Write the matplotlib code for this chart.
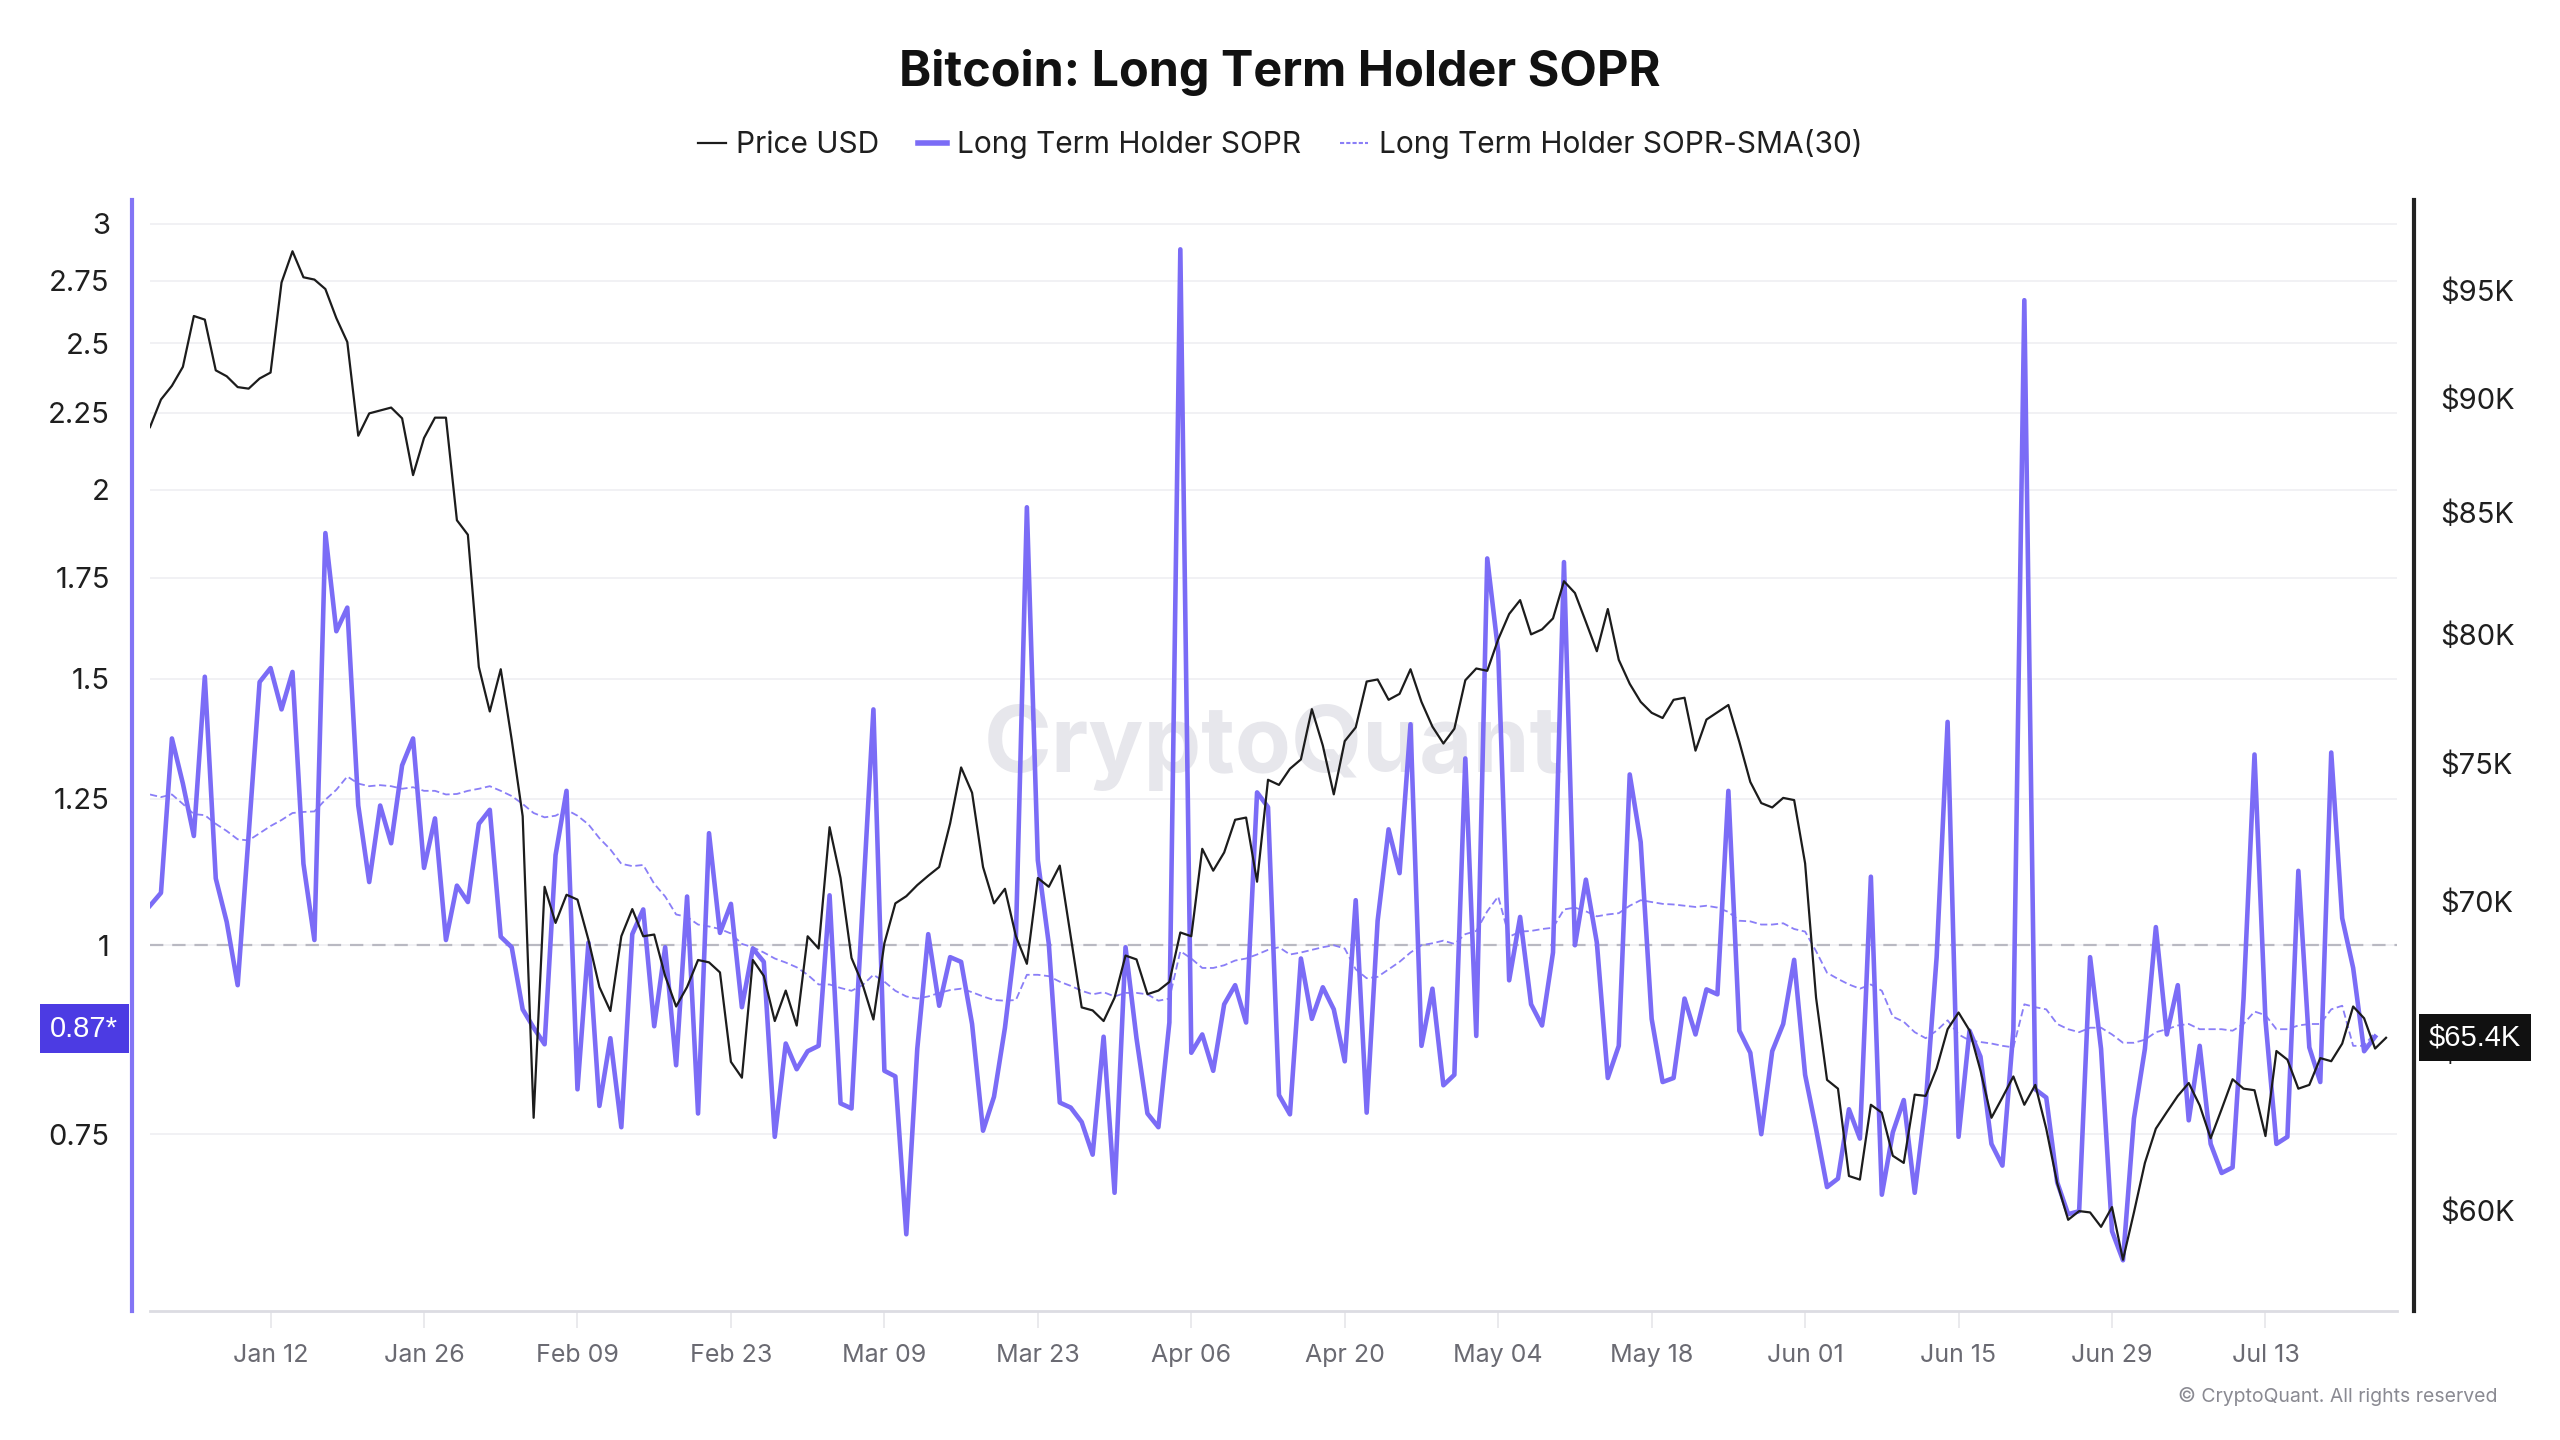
import matplotlib
matplotlib.use("Agg")
import matplotlib.pyplot as plt
import matplotlib.dates as mdates
import matplotlib.transforms as mtransforms
from matplotlib.lines import Line2D
from matplotlib.ticker import FixedLocator, NullLocator, FixedFormatter
import pandas as pd

# ---------------- data ----------------
start_date = "2026-01-01"

price_usd = [88710, 89940, 90560, 91420, 93770, 93600, 91260, 90990, 90500, 90430,
             90890, 91160, 95350, 96850, 95600, 95490, 95040, 93670, 92560, 88330,
             89320, 89450, 89580, 89100, 86610, 88230, 89130, 89130, 84680, 84070,
             78700, 76970, 78610, 75890, 73050, 62840, 70520, 69260, 70240, 70070,
             68680, 67080, 66280, 68800, 69740, 68800, 68860, 67450, 66430, 67080,
             67990, 67910, 67570, 64620, 64110, 67990, 67450, 65950, 66960, 65800,
             68800, 68380, 72650, 70830, 68060, 67180, 66000, 68560, 69940, 70190,
             70580, 70910, 71220, 72790, 74850, 73910, 71220, 69940, 70450, 68800,
             67860, 70830, 70520, 71270, 68800, 66400, 66300, 65950, 66720, 68140,
             68010, 66840, 66960, 67250, 68930, 68800, 71870, 71090, 71740, 72920,
             73000, 70700, 74390, 74200, 74800, 75150, 77060, 75670, 73850, 75840,
             76360, 78130, 78210, 77420, 77650, 78610, 77340, 76390, 75750, 76310,
             78180, 78640, 78550, 79790, 80810, 81370, 79990, 80190, 80630, 82140,
             81660, 80490, 79320, 81010, 78980, 78040, 77340, 76920, 76720, 77420,
             77500, 75480, 76660, 76940, 77220, 75810, 74310, 73530, 73370, 73720,
             73640, 71350, 66720, 64040, 63760, 61040, 60930, 63250, 63000, 61660,
             61440, 63570, 63530, 64410, 65680, 66230, 65640, 64340, 62840, 63480,
             64150, 63250, 63880, 62500, 60820, 59720, 59980, 59940, 59510, 60100,
             58540, 59940, 61440, 62500, 63020, 63530, 63940, 63230, 62200, 63110,
             64060, 63760, 63710, 62270, 64970, 64690, 63760, 63880, 64740, 64640,
             65210, 66430, 66040, 65050, 65400]

lth_sopr = [1.062, 1.083, 1.370, 1.279, 1.181, 1.505, 1.107, 1.036, 0.941, 1.183,
            1.493, 1.525, 1.432, 1.516, 1.132, 1.008, 1.873, 1.613, 1.672, 1.237,
            1.101, 1.237, 1.168, 1.315, 1.370, 1.125, 1.213, 1.008, 1.095, 1.068,
            1.203, 1.229, 1.013, 0.997, 0.907, 0.882, 0.860, 1.147, 1.265, 0.803,
            1.004, 0.783, 0.868, 0.758, 1.017, 1.056, 0.884, 0.997, 0.833, 1.077,
            0.774, 1.186, 1.019, 1.065, 0.910, 0.995, 0.975, 0.747, 0.861, 0.828,
            0.851, 0.858, 1.079, 0.786, 0.780, 1.059, 1.432, 0.826, 0.819, 0.644,
            0.854, 1.017, 0.912, 0.982, 0.975, 0.887, 0.754, 0.794, 0.882, 1.013,
            1.948, 1.138, 1.002, 0.787, 0.781, 0.764, 0.727, 0.870, 0.686, 0.997,
            0.868, 0.774, 0.758, 0.889, 2.885, 0.849, 0.873, 0.826, 0.914, 0.941,
            0.889, 1.262, 1.234, 0.796, 0.773, 0.980, 0.894, 0.938, 0.907, 0.838,
            1.071, 0.775, 1.038, 1.193, 1.116, 1.400, 0.858, 0.936, 0.808, 0.821,
            1.329, 0.871, 1.802, 1.564, 0.948, 1.044, 0.914, 0.885, 0.989, 1.792,
            1.000, 1.105, 1.004, 0.817, 0.858, 1.297, 1.170, 0.894, 0.812, 0.817,
            0.922, 0.873, 0.935, 0.928, 1.265, 0.878, 0.849, 0.750, 0.851, 0.887,
            0.978, 0.821, 0.756, 0.692, 0.701, 0.779, 0.745, 1.110, 0.684, 0.752,
            0.790, 0.686, 0.786, 0.982, 1.405, 0.747, 0.878, 0.844, 0.739, 0.715,
            0.878, 2.670, 0.803, 0.793, 0.697, 0.664, 0.667, 0.982, 0.854, 0.647,
            0.619, 0.768, 0.854, 1.028, 0.873, 0.941, 0.766, 0.858, 0.739, 0.707,
            0.713, 0.922, 1.337, 0.892, 0.739, 0.747, 1.120, 0.856, 0.812, 1.341,
            1.042, 0.966, 0.851, 0.870]

lth_sopr_sma30 = [1.258, 1.253, 1.258, 1.240, 1.221, 1.219, 1.203, 1.190, 1.175, 1.173,
                  1.186, 1.199, 1.210, 1.223, 1.225, 1.226, 1.248, 1.267, 1.293, 1.279,
                  1.274, 1.276, 1.274, 1.269, 1.272, 1.265, 1.265, 1.258, 1.259, 1.265,
                  1.269, 1.274, 1.265, 1.255, 1.240, 1.223, 1.215, 1.218, 1.229, 1.218,
                  1.202, 1.177, 1.157, 1.132, 1.128, 1.130, 1.098, 1.077, 1.048, 1.044,
                  1.032, 1.029, 1.025, 1.018, 1.002, 0.997, 0.989, 0.980, 0.974, 0.967,
                  0.956, 0.942, 0.942, 0.937, 0.933, 0.941, 0.956, 0.946, 0.933, 0.925,
                  0.922, 0.925, 0.930, 0.934, 0.936, 0.931, 0.925, 0.920, 0.919, 0.920,
                  0.956, 0.956, 0.954, 0.946, 0.940, 0.933, 0.928, 0.931, 0.925, 0.930,
                  0.930, 0.928, 0.919, 0.922, 0.991, 0.980, 0.966, 0.966, 0.970, 0.977,
                  0.980, 0.986, 0.993, 0.997, 0.986, 0.989, 0.993, 0.997, 1.000, 0.995,
                  0.964, 0.951, 0.953, 0.964, 0.975, 0.989, 1.000, 1.003, 1.007, 1.002,
                  1.017, 1.022, 1.053, 1.077, 1.013, 1.021, 1.022, 1.025, 1.027, 1.056,
                  1.059, 1.053, 1.045, 1.048, 1.050, 1.062, 1.071, 1.068, 1.065, 1.064,
                  1.062, 1.060, 1.062, 1.059, 1.052, 1.038, 1.037, 1.032, 1.032, 1.034,
                  1.025, 1.021, 0.991, 0.959, 0.950, 0.942, 0.936, 0.942, 0.933, 0.897,
                  0.890, 0.876, 0.868, 0.878, 0.892, 0.873, 0.865, 0.863, 0.861, 0.858,
                  0.856, 0.914, 0.910, 0.907, 0.887, 0.880, 0.876, 0.882, 0.882, 0.873,
                  0.862, 0.862, 0.866, 0.876, 0.880, 0.885, 0.887, 0.880, 0.880, 0.880,
                  0.878, 0.887, 0.904, 0.899, 0.880, 0.880, 0.885, 0.887, 0.887, 0.907,
                  0.912, 0.858, 0.858, 0.876]

left_ticks = [0.75, 1, 1.25, 1.5, 1.75, 2, 2.25, 2.5, 2.75, 3]
left_tick_labels = ["0.75", "1", "1.25", "1.5", "1.75", "2", "2.25", "2.5", "2.75", "3"]
right_ticks = [60000, 65000, 70000, 75000, 80000, 85000, 90000, 95000]
right_tick_labels = ["$60K", "$65K", "$70K", "$75K", "$80K", "$85K", "$90K", "$95K"]
date_ticks = ["2026-01-12", "2026-01-26", "2026-02-09", "2026-02-23", "2026-03-09",
              "2026-03-23", "2026-04-06", "2026-04-20", "2026-05-04", "2026-05-18",
              "2026-06-01", "2026-06-15", "2026-06-29", "2026-07-13"]

title = "Bitcoin: Long Term Holder SOPR"
legend_labels = ["Price USD", "Long Term Holder SOPR", "Long Term Holder SOPR-SMA(30)"]

# ---------------- styling ----------------
plt.rcParams["font.family"] = ["Inter", "DejaVu Sans"]
PURPLE = "#7b6cf6"
PURPLE_SMA = "#8a7ef7"
BLACK = "#1c1c1c"

dates = pd.date_range(start_date, periods=len(price_usd), freq="D")
sopr_dates = dates[:len(lth_sopr)]

W_PX, H_PX = 2560, 1440
fig = plt.figure(figsize=(W_PX / 100, H_PX / 100), dpi=100)
fig.patch.set_facecolor("white")
left_px, right_px, top_px, bottom_px = 150, 2397, 200, 1311
ax = fig.add_axes([left_px / W_PX, 1 - bottom_px / H_PX,
                   (right_px - left_px) / W_PX, (bottom_px - top_px) / H_PX])
ax2 = ax.twinx()

# watermark
ax.text(0.5, 0.507, "CryptoQuant", transform=ax.transAxes, ha="center", va="center",
        fontsize=66, fontweight="bold", color="#e7e7ec", zorder=0)

# reference line at 1
ax.axhline(1.0, color="#b9b9c2", lw=1.6, ls=(0, (6, 4)), zorder=1)

ax.plot(sopr_dates, lth_sopr, color=PURPLE, lw=3.3, zorder=3)
ax.plot(sopr_dates, lth_sopr_sma30, color=PURPLE_SMA, lw=1.3, ls=(0, (4, 2)), zorder=2)
ax2.plot(dates, price_usd, color=BLACK, lw=1.6, zorder=4)

# scales
ax.set_yscale("log")
ax.set_ylim(0.573, 3.11)
ax2.set_yscale("log")
ax2.set_ylim(57062, 99360)
x0 = pd.Timestamp(start_date)
ax.set_xlim(x0, x0 + pd.Timedelta(days=205))

ax.yaxis.set_major_locator(FixedLocator(left_ticks))
ax.yaxis.set_major_formatter(FixedFormatter(left_tick_labels))
ax.yaxis.set_minor_locator(NullLocator())
ax2.yaxis.set_major_locator(FixedLocator(right_ticks))
ax2.yaxis.set_major_formatter(FixedFormatter(right_tick_labels))
ax2.yaxis.set_minor_locator(NullLocator())

ax.set_xticks(pd.to_datetime(date_ticks))
ax.xaxis.set_major_formatter(mdates.DateFormatter("%b %d"))
ax.xaxis.set_minor_locator(NullLocator())

ax.grid(axis="y", color="#f0f0f3", lw=1.3)
ax.set_axisbelow(True)

ax.tick_params(axis="y", length=0, pad=16, labelsize=21, labelcolor="#1f1f1f")
ax2.tick_params(axis="y", length=0, pad=19, labelsize=21, labelcolor="#1f1f1f")
ax.tick_params(axis="x", length=12, width=1.2, color="#e6e6ea", pad=12,
               labelsize=18, labelcolor="#6a6a72")
for lab in ax.get_yticklabels() + ax2.get_yticklabels():
    lab.set_fontfamily(["Liberation Sans", "DejaVu Sans"])

# spines
for s in ["top", "right"]:
    ax.spines[s].set_visible(False)
for s in ["top", "left", "bottom"]:
    ax2.spines[s].set_visible(False)
ax.spines["left"].set_position(("outward", 13))
ax.spines["left"].set_color("#8375f5")
ax.spines["left"].set_linewidth(3)
ax2.spines["right"].set_position(("outward", 12))
ax2.spines["right"].set_color("#222222")
ax2.spines["right"].set_linewidth(3)
ax.spines["bottom"].set_color("#dcdce2")
ax.spines["bottom"].set_linewidth(2)

# value badges
tl = mtransforms.offset_copy(
    mtransforms.blended_transform_factory(fig.transFigure, ax.transData),
    fig=fig, x=0, y=8, units="dots")
ax.text(84 / W_PX, lth_sopr[-1], f"{lth_sopr[-1]:.2f}*", transform=tl,
        ha="center", va="center", fontsize=21, color="white",
        family=["Liberation Sans", "DejaVu Sans"], clip_on=False, zorder=10,
        bbox=dict(boxstyle="square,pad=0.36", fc="#4c3be3", ec="none"))
tr = mtransforms.blended_transform_factory(fig.transFigure, ax2.transData)
ax2.text(2475 / W_PX, price_usd[-1], f"${price_usd[-1] / 1000:.1f}K", transform=tr,
         ha="center", va="center", fontsize=21, color="white",
         family=["Liberation Sans", "DejaVu Sans"], clip_on=False, zorder=10,
         bbox=dict(boxstyle="square,pad=0.33", fc="#111111", ec="none"))

# title & legend
fig.text(0.5, 1 - 73 / H_PX, title, ha="center", va="center", fontsize=35,
         fontweight="bold", color="#111111")
handles = [Line2D([], [], color=BLACK, lw=1.6),
           Line2D([], [], color=PURPLE, lw=4),
           Line2D([], [], color=PURPLE_SMA, lw=1.5, ls=(0, (2, 1)))]
fig.legend(handles, legend_labels, loc="center", bbox_to_anchor=(0.5, 1 - 144 / H_PX),
           ncol=3, frameon=False, fontsize=21.5, handlelength=0.95, handletextpad=0.35,
           columnspacing=1.3, labelcolor="#1f1f1f")

fig.text(2498 / W_PX, 1 - 1397 / H_PX, "© CryptoQuant. All rights reserved",
         ha="right", va="center", fontsize=14, color="#8a8a92")

fig.savefig("out.png", dpi=100, facecolor="white")
